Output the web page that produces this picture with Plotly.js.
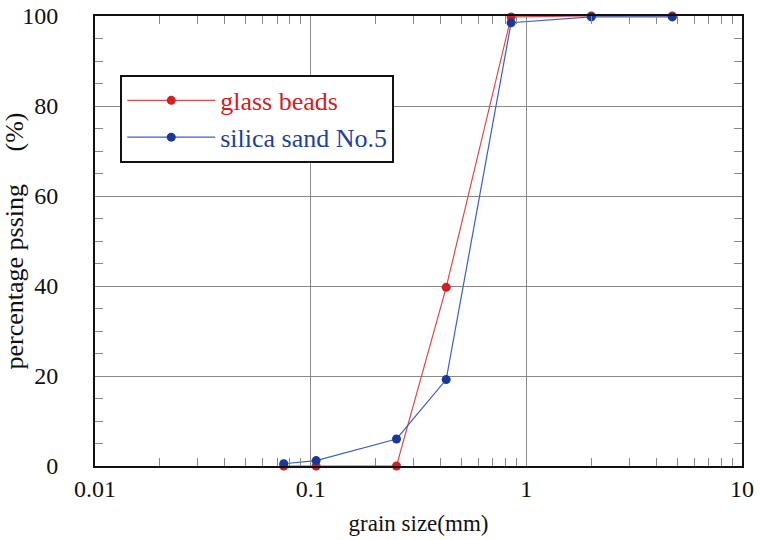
<!DOCTYPE html>
<html><head><meta charset="utf-8">
<script src="https://cdn.plot.ly/plotly-3.0.1.min.js"></script>
<style>body{margin:0;background:#fff}#c{width:760px;height:540px}</style>
</head><body><div id="c"></div>
<script>
const grainSize = [0.075, 0.106, 0.25, 0.425, 0.85, 2, 4.75];
const glassBeads = [0, 0, 0, 39.7, 99.8, 100, 100];
const silicaSand = [0.5, 1.2, 6.0, 19.2, 98.5, 99.8, 99.8];
const seriesNames = ['glass beads', 'silica sand No.5'];

const font = 'Liberation Serif';
const traces = [
  {x: grainSize, y: glassBeads, name: "<span style='color:#d42020'>" + seriesNames[0] + "</span>",
   mode: 'lines+markers', line: {color: '#e04848', width: 1.2},
   marker: {color: '#d42020', size: 9}, cliponaxis: false},
  {x: grainSize, y: silicaSand, name: "<span style='color:#1e3f9c'>" + seriesNames[1] + "</span>",
   mode: 'lines+markers', line: {color: '#3a60c4', width: 1.2},
   marker: {color: '#17399a', size: 9}, cliponaxis: false}
];
const layout = {
  width: 760, height: 540,
  margin: {l: 95, r: 18, t: 16, b: 74},
  paper_bgcolor: '#fff', plot_bgcolor: '#fff',
  font: {family: font, color: '#111', size: 24},
  showlegend: true,
  legend: {x: 0.039, y: 0.869, xanchor: 'left', yanchor: 'top',
    bgcolor: '#fff', bordercolor: '#111', borderwidth: 2,
    font: {family: font, size: 26}, tracegroupgap: 0, itemwidth: 88},
  xaxis: {type: 'log', range: [-2, 1], dtick: 1,
    showline: true, linecolor: '#111', linewidth: 2, mirror: 'allticks',
    ticks: 'inside', ticklen: 8, tickcolor: '#888',
    showgrid: true, gridcolor: '#888', gridwidth: 1, zeroline: false,
    minor: {ticks: 'inside', ticklen: 8, dtick: 'D1', tickcolor: '#888'},
    tickfont: {family: font, size: 24},
    title: {text: 'grain size(mm)', font: {family: font, size: 23}, standoff: 14}},
  yaxis: {range: [0, 100], dtick: 20,
    showline: true, linecolor: '#111', linewidth: 2, mirror: 'allticks',
    ticks: 'inside', ticklen: 8, tickcolor: '#888',
    showgrid: true, gridcolor: '#888', gridwidth: 1, zeroline: false,
    minor: {ticks: 'inside', ticklen: 8, dtick: 5, tickcolor: '#888'},
    tickfont: {family: font, size: 24}, ticklabelstandoff: 30,
    title: {text: 'percentage pssing\u00a0\u00a0\u00a0\u00a0\u00a0(%)', font: {family: font, size: 26}, standoff: 2}}
};
Plotly.newPlot('c', traces, layout, {staticPlot: true});
</script></body></html>
